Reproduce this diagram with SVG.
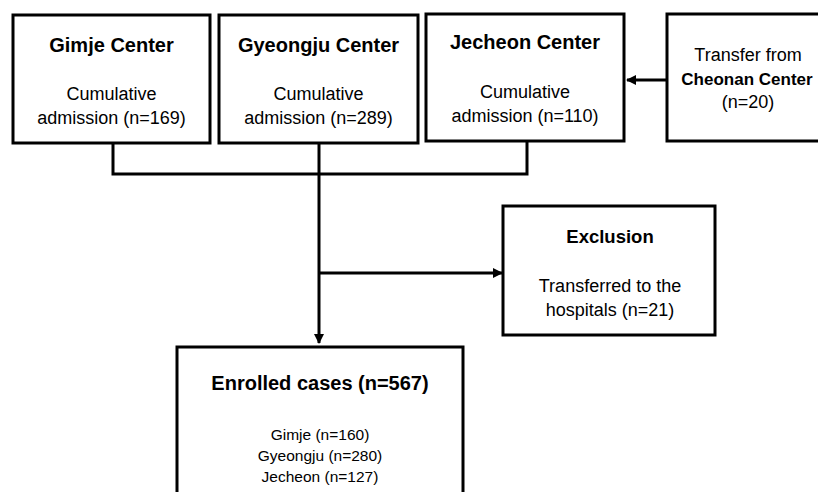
<svg xmlns="http://www.w3.org/2000/svg" width="818" height="492" viewBox="0 0 818 492">
<style>
.box{fill:#fff;stroke:#000;stroke-width:3}
.t{font-family:"Liberation Sans",Arial,sans-serif;font-size:20px;font-weight:bold;fill:#000;text-anchor:middle}
.r{font-family:"Liberation Sans",Arial,sans-serif;font-size:18px;fill:#000;text-anchor:middle}
.s{font-family:"Liberation Sans",Arial,sans-serif;font-size:15.5px;fill:#000;text-anchor:middle}
.c{fill:none;stroke:#000;stroke-width:3}
</style>
<defs>
<marker id="ah" markerWidth="10" markerHeight="10" refX="9" refY="5" orient="auto" markerUnits="userSpaceOnUse">
<path d="M0,0 L10,5 L0,10 Z" fill="#000"/>
</marker>
</defs>
<rect width="818" height="492" fill="#fff"/>
<g id="connectors">
<path class="c" d="M113,143 V174 H527 V141"/>
<path class="c" d="M319,143 V343" marker-end="url(#ah)"/>
<path class="c" d="M319,273 H502" marker-end="url(#ah)"/>
<path class="c" d="M667,80 H627" marker-end="url(#ah)"/>
</g>
<g id="gimje">
<rect class="box" x="13" y="15" width="197" height="128"/>
<text class="t" x="111.5" y="52">Gimje Center</text>
<text class="r" x="111.5" y="100">Cumulative</text>
<text class="r" x="111.5" y="124">admission (n=169)</text>
</g>
<g id="gyeongju">
<rect class="box" x="219" y="15" width="199" height="128"/>
<text class="t" x="318.5" y="52">Gyeongju Center</text>
<text class="r" x="318.5" y="100">Cumulative</text>
<text class="r" x="318.5" y="124">admission (n=289)</text>
</g>
<g id="jecheon">
<rect class="box" x="426" y="14" width="198" height="127"/>
<text class="t" x="525" y="49">Jecheon Center</text>
<text class="r" x="525" y="98">Cumulative</text>
<text class="r" x="525" y="122">admission (n=110)</text>
</g>
<g id="cheonan">
<rect class="box" x="667" y="14" width="170" height="127"/>
<text class="r" x="748" y="61">Transfer from</text>
<text class="t" x="747" y="85" style="font-size:17px">Cheonan Center</text>
<text class="r" x="748" y="108">(n=20)</text>
</g>
<g id="exclusion">
<rect class="box" x="503" y="206" width="212" height="129"/>
<text class="t" x="610" y="243" style="font-size:18.5px">Exclusion</text>
<text class="r" x="610" y="292">Transferred to the</text>
<text class="r" x="610" y="316">hospitals (n=21)</text>
</g>
<g id="enrolled">
<rect class="box" x="177" y="347" width="286" height="160"/>
<text class="t" x="320" y="390">Enrolled cases (n=567)</text>
<text class="s" x="320" y="440">Gimje (n=160)</text>
<text class="s" x="320" y="461">Gyeongju (n=280)</text>
<text class="s" x="320" y="482">Jecheon (n=127)</text>
</g>
</svg>
